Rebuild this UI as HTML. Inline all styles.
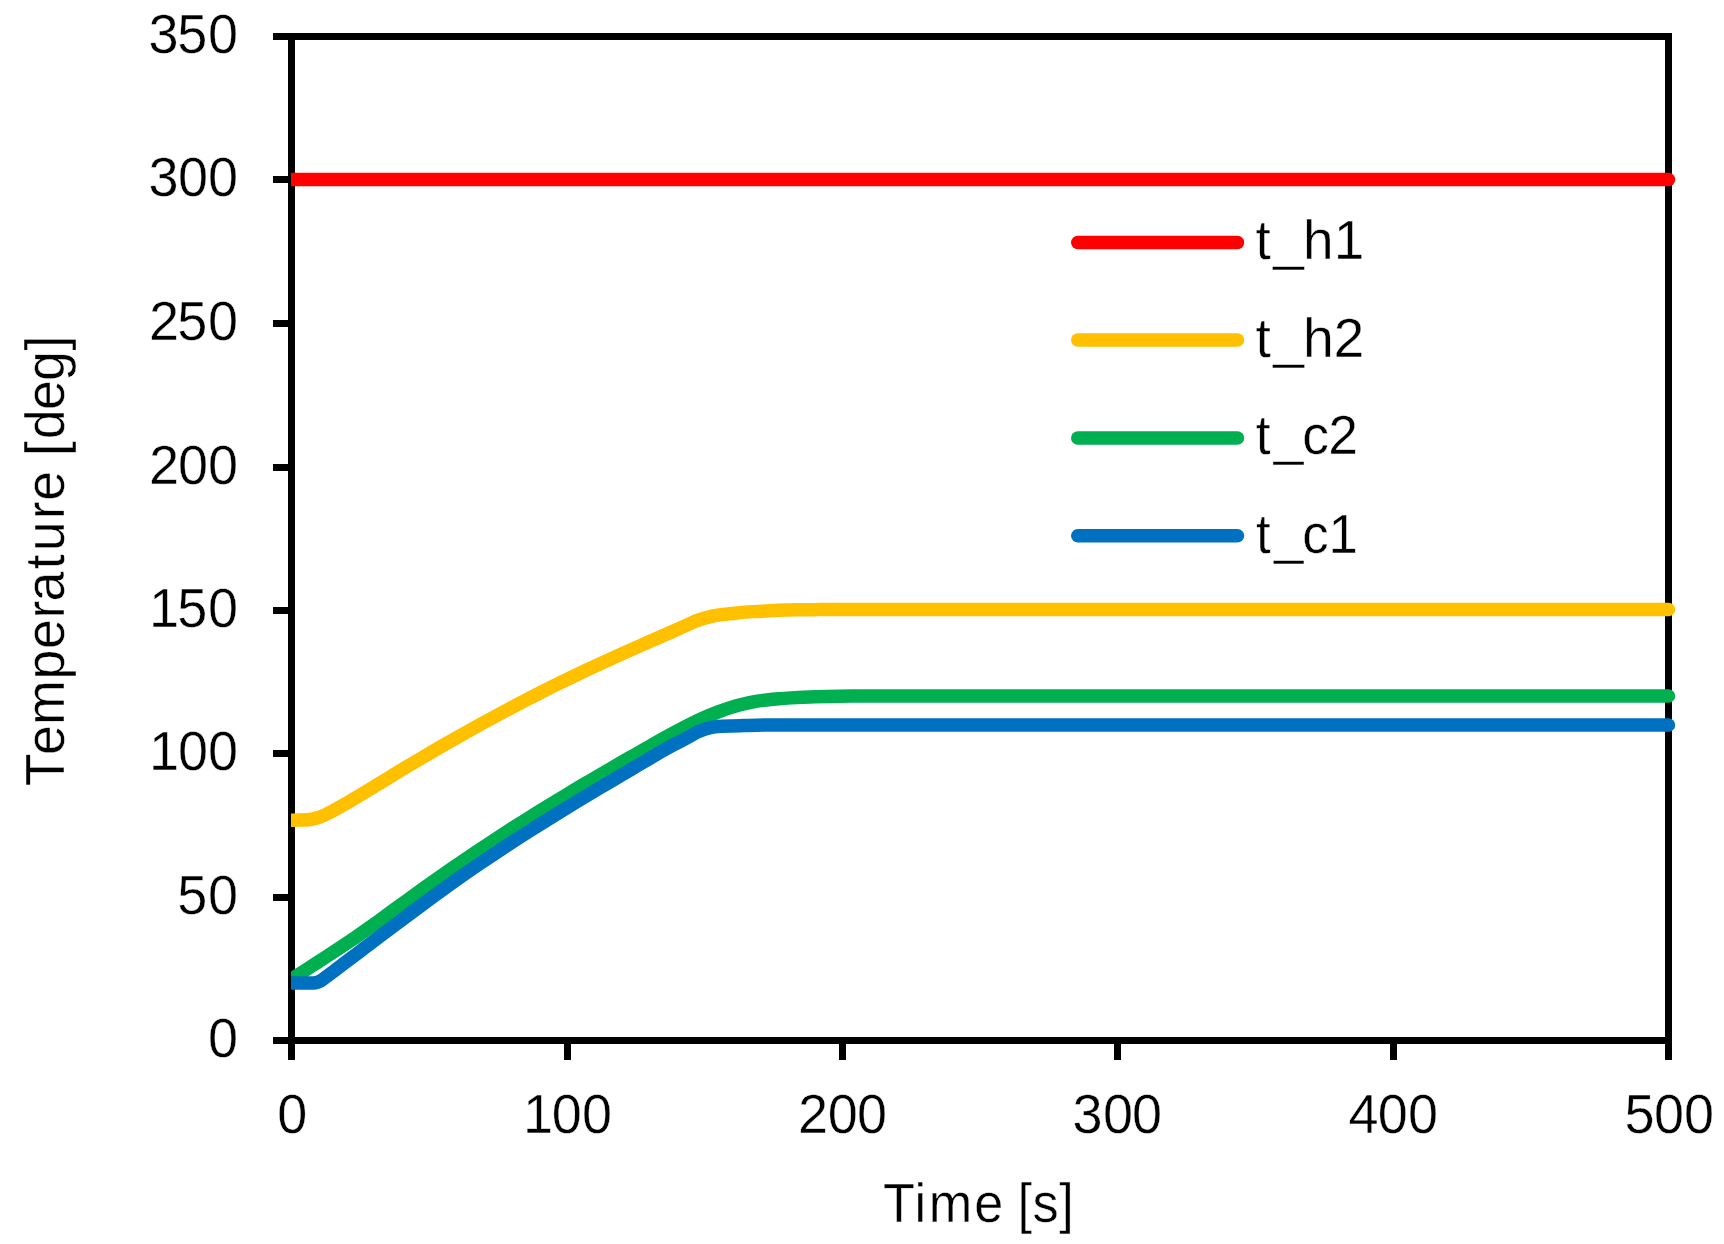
<!DOCTYPE html>
<html lang="en"><head><meta charset="utf-8"><title>Temperature vs Time</title>
<style>html,body{margin:0;padding:0;background:#fff;}svg{display:block;}text{font-family:"Liberation Sans",sans-serif;fill:#000;font-kerning:none;}</style></head><body>
<svg width="1724" height="1244" viewBox="0 0 1724 1244">
<rect width="1724" height="1244" fill="#fff"/>
<g fill="#000" shape-rendering="crispEdges">
<rect x="273" y="33" width="1399" height="7"/>
<rect x="273" y="1037" width="1399" height="7"/>
<rect x="288" y="33" width="7" height="1027"/>
<rect x="1665" y="33" width="7" height="1027"/>
<rect x="273" y="176" width="16" height="7"/>
<rect x="273" y="320" width="16" height="7"/>
<rect x="273" y="464" width="16" height="7"/>
<rect x="273" y="607" width="16" height="7"/>
<rect x="273" y="750" width="16" height="7"/>
<rect x="273" y="894" width="16" height="7"/>
<rect x="564" y="1043" width="7" height="17"/>
<rect x="839" y="1043" width="7" height="17"/>
<rect x="1114" y="1043" width="7" height="17"/>
<rect x="1390" y="1043" width="7" height="17"/>
</g>
<defs><clipPath id="plotclip"><rect x="291" y="0" width="1433" height="1244"/></clipPath></defs>
<g fill="none" stroke-width="13.5" stroke-linecap="round" stroke-linejoin="round" clip-path="url(#plotclip)">
<path stroke="#FF0000" d="M285 179.5L1668.5 179.5"/>
<path stroke="#FFC000" d="M285 820.45L300.00 820.06C304.00 820.13 308.00 819.94 312.00 819.24C316.00 818.54 320.00 817.24 324.00 815.44C328.00 813.65 332.00 811.44 336.00 809.20C340.00 806.96 344.00 804.67 348.00 802.34C352.00 800.01 356.00 797.64 360.00 795.24C364.00 792.84 368.00 790.41 372.00 787.98C376.00 785.54 380.00 783.09 384.00 780.65C388.00 778.20 392.00 775.76 396.00 773.33C400.00 770.90 404.00 768.49 408.00 766.09C412.00 763.69 416.00 761.31 420.00 758.94C424.00 756.58 428.00 754.23 432.00 751.89C436.00 749.56 440.00 747.24 444.00 744.94C448.00 742.64 452.00 740.35 456.00 738.08C460.00 735.81 464.00 733.55 468.00 731.32C472.00 729.08 476.00 726.86 480.00 724.66C484.00 722.45 488.00 720.26 492.00 718.09C496.00 715.92 500.00 713.77 504.00 711.63C508.00 709.50 512.00 707.38 516.00 705.28C520.00 703.17 524.00 701.09 528.00 699.02C532.00 696.96 536.00 694.91 540.00 692.88C544.00 690.84 548.00 688.83 552.00 686.83C556.00 684.84 560.00 682.86 564.00 680.90C568.00 678.94 572.00 677.00 576.00 675.08C580.00 673.15 584.00 671.25 588.00 669.36C592.00 667.47 596.00 665.61 600.00 663.76C604.00 661.91 608.00 660.08 612.00 658.27C616.00 656.46 620.00 654.66 624.00 652.88C628.00 651.10 632.00 649.33 636.00 647.57C640.00 645.81 644.00 644.06 648.00 642.30C652.00 640.55 656.00 638.79 660.00 637.04C664.00 635.28 668.00 633.52 672.00 631.74C676.00 629.97 680.00 628.19 684.00 626.39C688.00 624.59 692.00 622.78 696.00 620.94C698.73 619.93 701.47 619.00 704.20 618.21C706.93 617.42 709.67 616.72 712.40 616.11C715.13 615.49 717.87 615.05 720.60 614.71C723.33 614.37 726.07 614.11 728.80 613.84C731.53 613.58 734.27 613.30 737.00 612.98C739.73 612.65 742.47 612.31 745.20 612.11C747.93 611.90 750.67 611.76 753.40 611.62C756.13 611.49 758.87 611.36 761.60 611.21C764.33 611.06 767.07 610.90 769.80 610.74C772.53 610.58 775.27 610.42 778.00 610.29C780.73 610.16 783.47 610.06 786.20 610.00C788.93 609.95 791.67 609.90 794.40 609.86C797.13 609.81 799.87 609.77 802.60 609.74C805.33 609.71 808.07 609.68 810.80 609.66C813.53 609.63 816.27 609.62 819.00 609.60C821.73 609.59 824.47 609.58 827.20 609.57C829.93 609.56 832.67 609.55 835.40 609.54C838.13 609.53 840.87 609.53 843.60 609.52C846.33 609.51 849.07 609.51 851.80 609.51C854.53 609.50 857.27 609.50 860.00 609.50L1668.5 609.5"/>
<path stroke="#00B050" d="M291.5 981.2L294.30 977.41C298.34 974.79 302.38 972.19 306.41 969.59C310.45 966.99 314.49 964.40 318.53 961.80C322.57 959.19 326.60 956.58 330.64 953.95C334.68 951.32 338.72 948.66 342.76 945.97C346.79 943.29 350.83 940.56 354.87 937.80C358.91 935.03 362.95 932.21 366.98 929.35C371.02 926.48 375.06 923.58 379.10 920.65C383.14 917.73 387.17 914.78 391.21 911.83C395.25 908.88 399.29 905.94 403.33 903.00C407.36 900.07 411.40 897.15 415.44 894.25C419.48 891.35 423.52 888.46 427.55 885.59C431.59 882.72 435.63 879.86 439.67 877.03C443.71 874.19 447.74 871.38 451.78 868.58C455.82 865.78 459.86 863.01 463.90 860.26C467.93 857.50 471.97 854.78 476.01 852.07C480.05 849.36 484.09 846.68 488.12 844.02C492.16 841.35 496.20 838.71 500.24 836.09C504.28 833.47 508.31 830.87 512.35 828.29C516.39 825.71 520.43 823.15 524.47 820.61C528.50 818.07 532.54 815.54 536.58 813.03C540.62 810.52 544.66 808.03 548.69 805.56C552.73 803.08 556.77 800.62 560.81 798.18C564.85 795.73 568.88 793.30 572.92 790.88C576.96 788.47 581.00 786.06 585.04 783.67C589.07 781.28 593.11 778.90 597.15 776.53C601.19 774.16 605.23 771.81 609.26 769.46C613.30 767.11 617.34 764.77 621.38 762.45C625.42 760.12 629.45 757.80 633.49 755.48C637.53 753.17 641.57 750.87 645.61 748.57C649.64 746.27 653.68 743.97 657.72 741.70C661.76 739.42 665.80 737.16 669.83 734.95C673.87 732.73 677.91 730.56 681.95 728.46C685.99 726.35 690.02 724.31 694.06 722.35C698.10 720.40 702.14 718.53 706.18 716.78C710.21 715.02 714.25 713.37 718.29 711.83C722.33 710.30 726.37 708.89 730.40 707.62C734.44 706.34 738.48 705.20 742.52 704.22C746.56 703.23 750.59 702.40 754.63 701.70C758.67 700.99 762.71 700.42 766.75 699.93C770.78 699.45 774.82 699.06 778.86 698.73C782.90 698.40 786.94 698.13 790.97 697.88C795.01 697.64 799.05 697.42 803.09 697.23C807.13 697.04 811.16 696.88 815.20 696.74C819.24 696.60 823.28 696.48 827.32 696.38C831.35 696.28 835.39 696.20 839.43 696.13C843.47 696.07 847.51 696.02 851.54 695.98C855.58 695.95 859.62 695.93 863.66 695.92C867.70 695.90 871.73 695.90 875.77 695.91C879.81 695.91 883.85 695.92 887.89 695.94C891.92 695.96 895.96 695.98 900.00 696.00L1668.5 696"/>
<path stroke="#0070C0" d="M285 983L313 983Q318.05 983 322.10 979.90C326.14 976.88 330.18 973.86 334.22 970.82C338.26 967.79 342.30 964.75 346.34 961.70C350.38 958.65 354.42 955.59 358.46 952.54C362.50 949.48 366.54 946.43 370.58 943.37C374.62 940.31 378.66 937.26 382.70 934.21C386.74 931.16 390.78 928.12 394.82 925.08C398.86 922.04 402.90 919.02 406.94 916.00C410.98 912.98 415.02 909.98 419.05 906.99C423.09 904.00 427.13 901.03 431.17 898.07C435.21 895.12 439.25 892.18 443.29 889.27C447.33 886.35 451.37 883.46 455.41 880.59C459.45 877.72 463.49 874.88 467.53 872.07C471.57 869.25 475.61 866.47 479.65 863.71C483.69 860.96 487.73 858.23 491.77 855.53C495.81 852.82 499.85 850.15 503.89 847.50C507.93 844.84 511.97 842.21 516.01 839.61C520.05 837.00 524.09 834.41 528.13 831.85C532.17 829.28 536.21 826.73 540.25 824.20C544.29 821.67 548.33 819.16 552.37 816.67C556.41 814.17 560.45 811.69 564.49 809.22C568.53 806.75 572.57 804.30 576.61 801.85C580.65 799.41 584.69 796.98 588.73 794.56C592.77 792.13 596.81 789.72 600.85 787.31C604.88 784.91 608.92 782.51 612.96 780.11C617.00 777.72 621.04 775.33 625.08 772.94C629.12 770.56 633.16 768.17 637.20 765.79C641.24 763.41 645.28 761.03 649.32 758.65C653.36 756.26 657.40 753.88 661.44 751.55C665.48 749.22 669.52 746.97 673.56 744.82C677.60 742.66 681.64 740.58 685.68 738.44C689.72 736.30 693.76 734.10 697.80 731.72C700.60 730.51 703.40 729.46 706.20 728.69C709.00 727.91 711.80 727.29 714.60 726.90C717.40 726.51 720.20 726.42 723.00 726.29C725.80 726.15 728.60 726.05 731.40 725.94C734.20 725.84 737.00 725.74 739.80 725.65C742.60 725.57 745.40 725.49 748.20 725.41C751.00 725.33 753.80 725.26 756.60 725.19C759.40 725.12 762.20 725.06 765.00 725.00L1668.5 725"/>
</g>
<g fill="none" stroke-width="13.5" stroke-linecap="round">
<path stroke="#FF0000" d="M1077.75 242.5L1237.5 242.5"/>
<path stroke="#FFC000" d="M1077.75 340L1237.5 340"/>
<path stroke="#00B050" d="M1077.75 438L1237.5 438"/>
<path stroke="#0070C0" d="M1077.75 535.8L1237.5 535.8"/>
</g>
<text transform="translate(0 259.00) scale(1.0061 1)" x="1247.95 1265.55 1295.02 1325.77" y="0" font-size="54.7" stroke="#fff" stroke-width="0.4" vector-effect="non-scaling-stroke">t_h1</text>
<text transform="translate(0 357.00) scale(1.0127 1)" x="1239.79 1257.24 1286.58 1316.77" y="0" font-size="54.7" stroke="#fff" stroke-width="0.4" vector-effect="non-scaling-stroke">t_h2</text>
<text transform="translate(0 454.00) scale(0.9759 1)" x="1286.86 1305.23 1334.30 1360.97" y="0" font-size="54.7" stroke="#fff" stroke-width="0.4" vector-effect="non-scaling-stroke">t_c2</text>
<text transform="translate(0 553.00) scale(0.9650 1)" x="1301.49 1320.15 1349.54 1376.76" y="0" font-size="54.7" stroke="#fff" stroke-width="0.4" vector-effect="non-scaling-stroke">t_c1</text>
<text transform="translate(0 53.10) scale(0.9700 1)" x="153.18 182.86 214.34" y="0" font-size="55.7" stroke="#fff" stroke-width="0.4" vector-effect="non-scaling-stroke">350</text>
<text transform="translate(0 196.10) scale(0.9700 1)" x="153.18 183.48 214.34" y="0" font-size="55.7" stroke="#fff" stroke-width="0.4" vector-effect="non-scaling-stroke">300</text>
<text transform="translate(0 340.10) scale(0.9700 1)" x="153.58 182.86 214.34" y="0" font-size="55.7" stroke="#fff" stroke-width="0.4" vector-effect="non-scaling-stroke">250</text>
<text transform="translate(0 484.10) scale(0.9700 1)" x="153.58 183.48 214.34" y="0" font-size="55.7" stroke="#fff" stroke-width="0.4" vector-effect="non-scaling-stroke">200</text>
<text transform="translate(0 627.10) scale(0.9700 1)" x="153.67 182.86 214.34" y="0" font-size="55.7" stroke="#fff" stroke-width="0.4" vector-effect="non-scaling-stroke">150</text>
<text transform="translate(0 770.10) scale(0.9700 1)" x="153.67 183.48 214.34" y="0" font-size="55.7" stroke="#fff" stroke-width="0.4" vector-effect="non-scaling-stroke">100</text>
<text transform="translate(0 914.10) scale(0.9700 1)" x="182.86 214.34" y="0" font-size="55.7" stroke="#fff" stroke-width="0.4" vector-effect="non-scaling-stroke">50</text>
<text transform="translate(0 1057.10) scale(0.9700 1)" x="214.34" y="0" font-size="55.7" stroke="#fff" stroke-width="0.4" vector-effect="non-scaling-stroke">0</text>
<text transform="translate(0 1133.10) scale(0.9700 1)" x="285.90" y="0" font-size="55.7" stroke="#fff" stroke-width="0.4" vector-effect="non-scaling-stroke">0</text>
<text transform="translate(0 1133.10) scale(0.9700 1)" x="539.29 568.94 600.10" y="0" font-size="55.7" stroke="#fff" stroke-width="0.4" vector-effect="non-scaling-stroke">100</text>
<text transform="translate(0 1133.10) scale(0.9700 1)" x="822.66 853.48 883.53" y="0" font-size="55.7" stroke="#fff" stroke-width="0.4" vector-effect="non-scaling-stroke">200</text>
<text transform="translate(0 1133.10) scale(0.9700 1)" x="1105.76 1137.09 1167.11" y="0" font-size="55.7" stroke="#fff" stroke-width="0.4" vector-effect="non-scaling-stroke">300</text>
<text transform="translate(0 1133.10) scale(0.9700 1)" x="1390.25 1420.49 1451.52" y="0" font-size="55.7" stroke="#fff" stroke-width="0.4" vector-effect="non-scaling-stroke">400</text>
<text transform="translate(0 1133.10) scale(0.9700 1)" x="1674.80 1705.08 1736.06" y="0" font-size="55.7" stroke="#fff" stroke-width="0.4" vector-effect="non-scaling-stroke">500</text>
<text transform="translate(0 1222.00) scale(0.9556 1)" x="923.94 957.12 971.94 1019.66 1050.08 1064.82 1080.54 1108.58" y="0" font-size="54.7" stroke="#fff" stroke-width="0.4" vector-effect="non-scaling-stroke">Time [s]</text>
<text transform="translate(64.00 784.00) rotate(-90) scale(0.9809 1)" x="-2.27 29.60 60.29 106.57 137.67 168.76 186.00 218.98 237.21 269.79 288.71 319.13 334.37 351.56 381.33 410.74 441.85" y="0" font-size="54.7" stroke="#fff" stroke-width="0.4" vector-effect="non-scaling-stroke">Temperature [deg]</text>
</svg></body></html>
